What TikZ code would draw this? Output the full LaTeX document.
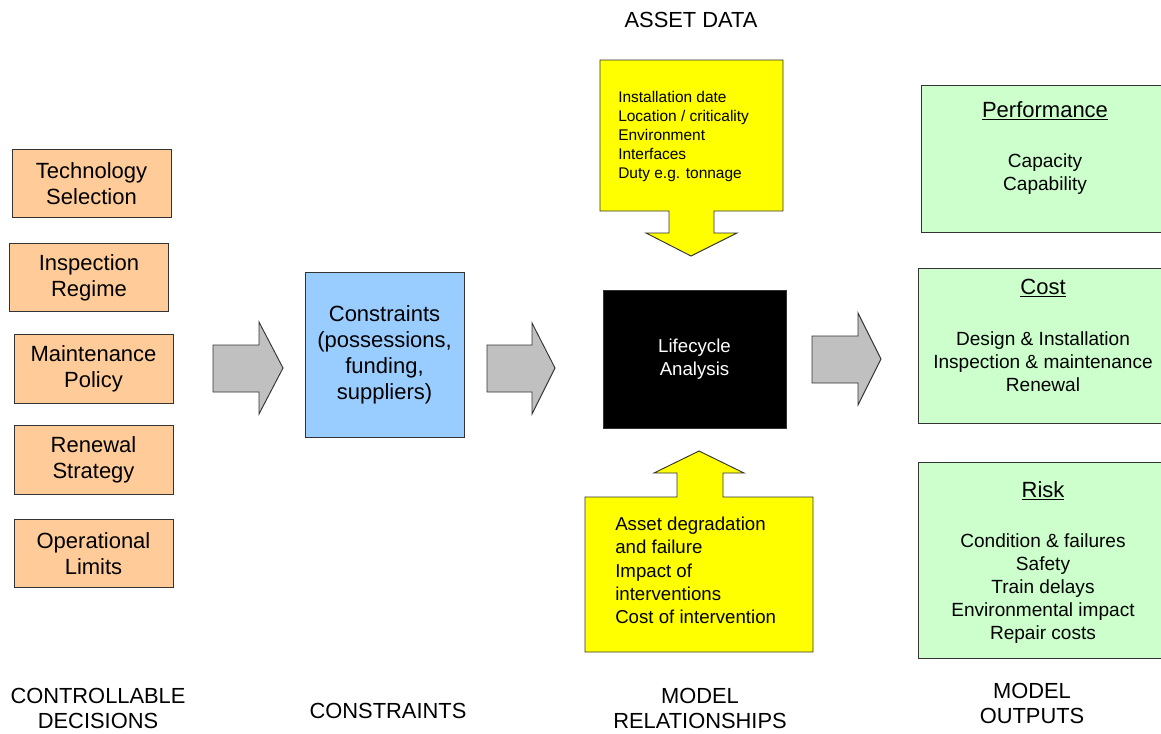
\documentclass[tikz,border=0pt]{standalone}
\usepackage{fontspec}
\setmainfont{Liberation Sans}
\definecolor{orangebox}{HTML}{FFCC99}
\definecolor{bluebox}{HTML}{99CCFF}
\definecolor{greenbox}{HTML}{CCFFCC}
\definecolor{yellowbox}{HTML}{FFFF00}
\definecolor{grayarrow}{HTML}{C0C0C0}
\definecolor{edge}{HTML}{333333}
\begin{document}
\begin{tikzpicture}[x=0.75pt,y=-0.75pt,
  basebox/.style={draw=edge, line width=0.7pt, inner sep=0pt, align=center},
  obox/.style={basebox, fill=orangebox, minimum width=119.25pt, minimum height=51.5pt, font=\fontsize{16.5}{19.5}\selectfont},
  gbox/.style={basebox, fill=greenbox},
  txt/.style={inner sep=0pt, align=center},
  bigtxt/.style={txt, font=\fontsize{16.5}{19.5}\selectfont},
  medtxt/.style={txt, font=\fontsize{14.3}{17.25}\selectfont},
  lbltxt/.style={txt, font=\fontsize{16.4}{18.75}\selectfont},
  blockarrow/.style={draw=edge, line width=0.7pt, fill=grayarrow},
  callout/.style={draw=edge, line width=0.7pt, fill=yellowbox}]
\useasboundingbox (0,0) rectangle (1161,733);
\clip (0,0) rectangle (1161,733);

% controllable decisions
\node[obox] (tech) at (91.5,183.5) {Technology\\Selection};
\node[obox] (insp) at (89,277.5) {Inspection\\Regime};
\node[obox] (maint) at (93.5,369) {Maintenance\\Policy};
\node[obox] (renew) at (93.5,460) {Renewal\\Strategy};
\node[obox] (oper) at (93.5,553.5) {Operational\\Limits};

% block arrows
\draw[blockarrow] (213,345) -- (259,345) -- (259,322) -- (283,368) -- (259,414) -- (259,392) -- (213,392) -- cycle;
\draw[blockarrow] (487,345) -- (532,345) -- (532,323) -- (555,368) -- (532,414) -- (532,392) -- (487,392) -- cycle;
\draw[blockarrow] (812,336) -- (858,336) -- (858,313) -- (881,359) -- (858,405) -- (858,383) -- (812,383) -- cycle;

% constraints
\node[basebox, fill=bluebox, minimum width=119.25pt, minimum height=123.75pt, font=\fontsize{16.5}{19.5}\selectfont] (cons) at (384.5,354.5) {Constraints\\(possessions,\\funding,\\suppliers)};

% lifecycle analysis
\node[basebox, fill=black, text=white, minimum width=137.25pt, minimum height=103.5pt, font=\fontsize{14}{17.25}\selectfont] (lca) at (694.5,359.5) {Lifecycle\\Analysis};

% asset data callout
\draw[callout] (600,60) -- (783,60) -- (783,211) -- (714,211) -- (714,233) -- (737,233) -- (691,256) -- (646,233) -- (669,233) -- (669,211) -- (600,211) -- cycle;
\node[txt, anchor=west, align=left, font=\fontsize{11.6}{14.25}\selectfont] (asset) at (618,136) {Installation date\\Location / criticality\\Environment\\Interfaces\\Duty e.g. tonnage};

% model relationships callout
\draw[callout] (585,497) -- (677,497) -- (677,473) -- (654,473) -- (699,451) -- (744,473) -- (723,473) -- (723,497) -- (813,497) -- (813,652) -- (585,652) -- cycle;
\node[txt, anchor=west, align=left, font=\fontsize{14}{17.5}\selectfont] (rel) at (615,570.5) {Asset degradation\\and failure\\Impact of\\interventions\\Cost of intervention};

% outputs
\node[gbox, minimum width=185.25pt, minimum height=110.25pt] (perf) at (1044.5,158.5) {};
\node[bigtxt] (perft) at (1045,111) {\underline{Performance}};
\node[medtxt] (perfi) at (1045,174.5) {Capacity\\Capability};

\node[gbox, minimum width=187.5pt, minimum height=116.25pt] (cost) at (1043,345.5) {};
\node[bigtxt] (costt) at (1043,288) {\underline{Cost}};
\node[medtxt] (costi) at (1043,362) {Design \& Installation\\Inspection \& maintenance\\Renewal};

\node[gbox, minimum width=187.5pt, minimum height=147pt] (risk) at (1043,560) {};
\node[bigtxt] (riskt) at (1043,491) {\underline{Risk}};
\node[medtxt] (riski) at (1043,588.5) {Condition \& failures\\Safety\\Train delays\\Environmental impact\\Repair costs};

% column labels
\node[lbltxt] (l1) at (691,20) {ASSET DATA};
\node[lbltxt] (l2) at (98,708.5) {CONTROLLABLE\\DECISIONS};
\node[lbltxt] (l3) at (388,711) {CONSTRAINTS};
\node[lbltxt] (l4) at (700,708.5) {MODEL\\RELATIONSHIPS};
\node[lbltxt] (l5) at (1032,703) {MODEL\\OUTPUTS};
\end{tikzpicture}
\end{document}
